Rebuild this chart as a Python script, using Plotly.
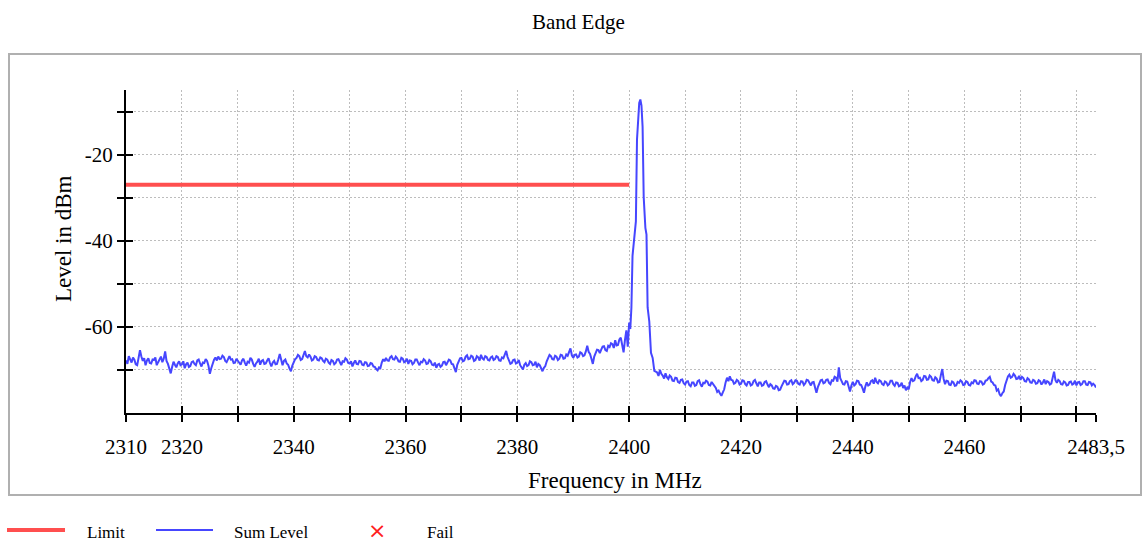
import numpy as np
import plotly.graph_objects as go

# Sum level trace, 0.25 MHz steps from 2310.00 to 2399.75 MHz (dBm), 5 MHz per row
left_level = [
    -67.8, -68.6, -66.8, -67.4, -68.3, -67.1, -67.6, -68.7, -68.9, -67.2, -65.4, -66.9, -67.9, -67.3, -68.9, -67.8, -67.3, -68.4, -68.5, -67.6,
    -67.7, -67.1, -68.9, -68.2, -67.6, -66.9, -68.2, -67.4, -65.7, -67.9, -68.6, -69.5, -70.8, -69.3, -68.1, -68.8, -69.4, -68.5, -68.0, -68.9,
    -68.7, -68.0, -69.6, -68.7, -68.3, -69.3, -69.1, -68.2, -68.0, -68.6, -68.9, -67.8, -67.6, -68.5, -69.2, -68.3, -68.4, -67.5, -67.9, -69.0,
    -70.9, -69.6, -68.5, -67.6, -67.1, -67.8, -66.9, -67.5, -67.4, -66.7, -67.0, -67.9, -68.2, -67.3, -66.8, -67.6, -67.5, -68.4, -68.3, -67.4,
    -67.9, -68.5, -68.8, -67.8, -67.4, -68.3, -69.0, -68.1, -68.3, -67.2, -67.6, -68.6, -69.3, -68.5, -68.1, -67.4, -68.8, -67.9, -67.7, -68.6,
    -68.5, -67.8, -67.3, -68.4, -69.2, -68.3, -67.9, -68.7, -68.6, -67.5, -66.3, -67.6, -68.9, -67.9, -67.6, -68.5, -68.8, -69.7, -70.3, -69.0,
    -68.0, -67.5, -67.2, -66.5, -66.8, -67.7, -67.5, -66.6, -65.6, -66.8, -67.1, -66.4, -66.9, -67.8, -67.6, -66.8, -67.0, -67.7, -67.8, -67.1,
    -67.3, -67.9, -68.2, -67.4, -67.6, -68.3, -68.6, -67.7, -67.9, -68.7, -68.4, -67.6, -67.5, -68.2, -68.9, -68.0, -68.1, -67.3, -67.6, -68.4,
    -68.5, -68.0, -69.2, -68.4, -67.8, -68.6, -68.7, -67.9, -68.0, -68.8, -68.9, -68.2, -68.3, -69.1, -69.0, -68.4, -68.5, -69.2, -69.3, -69.8,
    -70.1, -69.4, -69.6, -68.3, -67.5, -68.0, -67.2, -67.8, -67.9, -67.1, -66.8, -67.5, -67.6, -66.9, -67.3, -68.0, -68.1, -67.2, -67.4, -68.2,
    -68.0, -67.4, -68.6, -67.8, -67.9, -68.7, -68.4, -67.6, -67.6, -68.3, -68.9, -68.1, -68.2, -67.5, -67.8, -68.6, -68.5, -67.7, -68.0, -68.8,
    -68.9, -68.3, -69.5, -68.8, -68.6, -69.3, -69.0, -68.2, -68.1, -68.9, -68.4, -67.6, -67.8, -68.6, -68.7, -69.6, -70.5, -68.8, -67.9, -67.3,
    -67.2, -68.0, -67.8, -66.9, -66.6, -67.5, -67.4, -66.7, -66.9, -67.9, -67.7, -66.8, -67.1, -67.8, -66.5, -67.3, -67.6, -66.8, -67.0, -67.7,
    -67.8, -67.1, -66.9, -67.7, -67.5, -66.8, -67.0, -67.8, -67.9, -67.1, -67.3, -66.4, -65.6, -67.0, -67.8, -68.6, -68.4, -67.7, -67.6, -68.5,
    -68.3, -67.7, -68.9, -69.3, -69.9, -68.8, -68.4, -69.1, -68.9, -68.0, -68.2, -68.9, -68.8, -68.1, -69.4, -68.6, -68.9, -69.6, -70.3, -69.5,
    -69.1, -68.0, -67.2, -66.5, -66.8, -67.5, -67.6, -66.7, -66.9, -67.7, -67.4, -66.5, -66.6, -67.4, -67.3, -66.4, -66.7, -65.9, -65.0, -66.6,
    -67.2, -66.5, -66.4, -67.1, -66.9, -65.9, -66.1, -66.8, -66.6, -65.7, -64.4, -65.8, -66.3, -67.4, -68.6, -66.9, -66.0, -65.3, -65.4, -66.1,
    -65.3, -64.6, -64.5, -65.4, -65.6, -64.4, -64.7, -63.8, -64.0, -64.9, -63.1, -64.3, -64.2, -62.9, -62.5, -64.6, -65.9, -63.0, -60.8, -64.6,
]

# Carrier around 2402 MHz
peak_freq = [2400.0, 2400.2, 2400.4, 2400.6, 2400.9, 2401.2, 2401.4,
             2401.6, 2401.8, 2402.0, 2402.2, 2402.4, 2402.6, 2402.9, 2403.1,
             2403.3, 2403.6, 2403.9, 2404.2, 2404.5]
peak_level = [-59.0, -60.5, -55.5, -43.5, -40.0, -35.5, -16.5,
              -12.8, -8.0, -7.2, -8.6, -13.5, -29.9, -37.0, -38.6,
              -55.5, -58.8, -66.0, -67.2, -70.2]

# Sum level trace, 0.25 MHz steps from 2405.00 to 2483.50 MHz (dBm), 5 MHz per row
right_level = [
    -70.6, -71.4, -70.0, -70.9, -71.3, -72.0, -70.8, -71.7, -72.1, -71.3, -71.6, -72.5, -72.6, -71.8, -71.9, -72.8, -73.0, -72.3, -72.2, -73.1,
    -73.4, -72.7, -72.6, -73.5, -73.8, -72.9, -72.9, -73.7, -73.5, -72.6, -72.4, -73.3, -73.9, -73.0, -73.1, -72.5, -72.7, -73.5, -73.6, -72.8,
    -73.3, -73.9, -74.2, -75.1, -74.8, -75.5, -76.0, -75.2, -74.5, -72.9, -71.8, -72.6, -71.5, -72.3, -72.4, -73.2, -73.0, -72.3, -72.6, -73.4,
    -73.2, -72.4, -72.5, -73.3, -73.6, -72.8, -72.8, -73.6, -73.4, -72.6, -72.3, -73.1, -73.8, -72.9, -72.9, -73.7, -73.5, -72.8, -72.6, -73.4,
    -74.0, -73.3, -73.6, -74.3, -74.4, -73.7, -73.9, -74.7, -74.6, -73.8, -73.2, -72.5, -72.6, -73.4, -73.3, -72.6, -72.4, -73.3, -73.0, -72.4,
    -72.5, -73.2, -73.4, -72.6, -72.7, -73.5, -73.1, -72.3, -72.4, -73.2, -73.6, -72.9, -72.8, -74.1, -75.3, -74.0, -73.0, -72.4, -72.3, -73.1,
    -72.9, -72.3, -72.2, -73.0, -73.3, -72.4, -72.5, -71.6, -71.8, -72.7, -69.4, -71.9, -72.6, -73.3, -73.4, -72.6, -72.7, -73.8, -75.0, -73.6,
    -72.8, -73.6, -73.3, -72.5, -72.6, -73.4, -73.5, -74.3, -75.3, -73.8, -72.9, -73.6, -73.4, -72.6, -72.4, -73.2, -71.8, -72.8, -73.1, -72.4,
    -72.6, -73.3, -73.5, -72.7, -72.9, -73.6, -73.3, -72.5, -72.5, -73.3, -73.7, -72.9, -73.0, -73.8, -73.6, -73.0, -74.2, -73.6, -74.7, -74.1,
    -74.5, -72.8, -71.9, -72.6, -72.4, -71.5, -70.9, -71.9, -71.8, -72.6, -72.3, -71.4, -71.5, -72.3, -72.2, -71.3, -71.6, -72.4, -72.5, -71.7,
    -72.0, -72.9, -72.8, -71.2, -69.8, -72.1, -73.3, -72.5, -72.6, -73.4, -73.5, -72.7, -72.9, -73.7, -73.6, -72.8, -73.0, -72.4, -72.7, -73.5,
    -73.4, -72.6, -72.8, -73.5, -73.6, -72.9, -73.1, -72.4, -72.5, -73.2, -73.3, -72.6, -72.7, -73.4, -73.2, -72.5, -72.4, -71.9, -71.6, -72.7,
    -72.9, -73.5, -73.6, -74.8, -74.5, -75.6, -76.1, -75.4, -75.0, -73.5, -72.4, -71.5, -71.1, -71.8, -71.6, -70.9, -71.3, -72.1, -72.0, -71.4,
    -72.3, -71.6, -71.9, -72.6, -72.7, -71.9, -72.2, -72.9, -73.0, -72.3, -72.5, -73.2, -73.1, -72.4, -72.6, -73.4, -72.9, -72.2, -73.3, -72.6,
    -72.8, -73.4, -73.2, -72.1, -70.4, -72.4, -73.0, -72.3, -72.6, -73.3, -73.4, -72.7, -72.9, -73.6, -73.5, -72.8, -72.7, -73.4, -73.2, -72.5,
    -73.6, -72.9, -72.8, -73.5, -73.3, -72.6, -72.6, -73.4, -73.5, -72.8, -72.9, -73.6, -73.2, -73.5, -74.1,
]

step = 0.25
left_freq = list(2310.0 + step * np.arange(len(left_level)))
right_freq = list(2405.0 + step * np.arange(len(right_level)))
sum_freq = left_freq + peak_freq + right_freq
sum_level = left_level + peak_level + right_level

limit_freq = [2310.0, 2400.0]
limit_level = [-27.0, -27.0]

x_range = [2310.0, 2483.5]
y_range = [-80.0, -5.0]
x_tickvals = [2310, 2320, 2330, 2340, 2350, 2360, 2370, 2380, 2390, 2400,
              2410, 2420, 2430, 2440, 2450, 2460, 2470, 2480, 2483.5]
x_ticktext = ["2310", "2320", "", "2340", "", "2360", "", "2380", "", "2400",
              "", "2420", "", "2440", "", "2460", "", "", "2483,5"]
y_tickvals = [-70, -60, -50, -40, -30, -20, -10]
y_ticktext = ["", "-60", "", "-40", "", "-20", ""]

RED = "#ff4f4f"
BLUE = "#4646ff"
GRID = "#bdbdbd"
FONT = "Liberation Serif"

W, H = 1144, 543
ML, MR, MT, MB = 126, 48, 90, 130
PW, PH = W - ML - MR, H - MT - MB


def px(x):
    return (x - ML) / PW


def py(y):
    return (H - MB - y) / PH


fig = go.Figure()
fig.add_trace(go.Scatter(x=sum_freq, y=sum_level, mode="lines",
                         line=dict(color=BLUE, width=2.0), name="Sum Level",
                         showlegend=False))
fig.add_trace(go.Scatter(x=limit_freq, y=limit_level, mode="lines",
                         line=dict(color=RED, width=4), name="Limit",
                         showlegend=False))
# companion axes carry the inner half of each tick mark
fig.add_trace(go.Scatter(x=x_range, y=y_range, xaxis="x2", yaxis="y2",
                         mode="lines", line=dict(width=0), hoverinfo="skip",
                         showlegend=False))

axis_common = dict(showline=True, linecolor="black", linewidth=2,
                   ticks="outside", ticklen=7, tickwidth=2, tickcolor="black",
                   zeroline=False, tickfont=dict(family=FONT, size=21, color="black"))

fig.update_layout(
    width=W, height=H,
    margin=dict(l=ML, r=MR, t=MT, b=MB),
    paper_bgcolor="white", plot_bgcolor="white",
    showlegend=False,
    xaxis=dict(range=x_range, tickmode="array", tickvals=x_tickvals,
               ticktext=x_ticktext, showgrid=True, gridcolor=GRID, gridwidth=1,
               griddash="2px,2px", ticklabelstandoff=7, **axis_common),
    yaxis=dict(range=y_range, tickmode="array", tickvals=y_tickvals,
               ticktext=y_ticktext, showgrid=True, gridcolor=GRID, gridwidth=1,
               griddash="2px,2px", ticklabelstandoff=0, **axis_common),
    xaxis2=dict(range=x_range, overlaying="x", matches="x", tickmode="array",
                tickvals=x_tickvals, ticks="inside", ticklen=7, tickwidth=2,
                tickcolor="black", showticklabels=False, showgrid=False,
                zeroline=False, showline=False),
    yaxis2=dict(range=y_range, overlaying="y", matches="y", tickmode="array",
                tickvals=y_tickvals, ticks="inside", ticklen=7, tickwidth=2,
                tickcolor="black", showticklabels=False, showgrid=False,
                zeroline=False, showline=False),
)

# frame around the diagram area
fig.add_shape(type="rect", xref="paper", yref="paper",
              x0=px(9), x1=px(1141), y0=py(495), y1=py(54),
              line=dict(color="#b0b0b0", width=2), layer="below")


def label(text, x, y, size, anchor="center", angle=0, family=FONT, color="black"):
    fig.add_annotation(text=text, xref="paper", yref="paper", x=px(x), y=py(y),
                       xanchor=anchor, yanchor="middle", showarrow=False,
                       textangle=angle,
                       font=dict(family=family, size=size, color=color))


label("Band Edge", 578, 22, 21)
label("Frequency in MHz", 615, 480, 23)
label("Level in dBm", 63, 238, 23, angle=-90)

# legend row below the frame
leg_y = py(530)
fig.add_shape(type="line", xref="paper", yref="paper", x0=px(7), x1=px(65),
              y0=leg_y, y1=leg_y, line=dict(color=RED, width=4))
fig.add_shape(type="line", xref="paper", yref="paper", x0=px(156), x1=px(213),
              y0=leg_y, y1=leg_y, line=dict(color=BLUE, width=2))
label("Limit", 85, 532, 17, anchor="left")
label("Sum Level", 232, 532, 17, anchor="left")
label("×", 377, 530, 22, family="DejaVu Sans", color="#ff2020")
label("Fail", 425, 532, 17, anchor="left")

fig.write_html("out.html")
